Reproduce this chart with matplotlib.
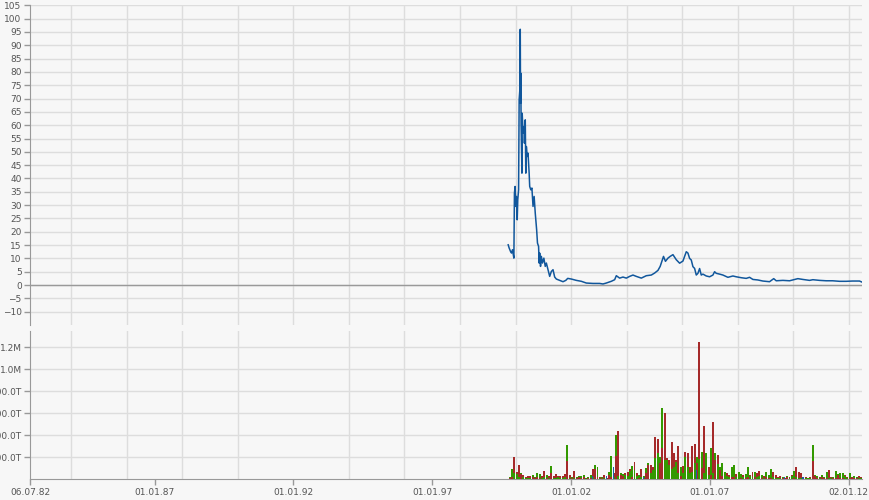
import numpy as np
import matplotlib
matplotlib.use("Agg")
import matplotlib.pyplot as plt

# price line (decimal years, value)
price_t = [1999.735, 1999.77, 1999.82, 1999.855, 1999.89, 1999.94, 1999.96, 1999.985, 2000.01, 2000.03,
           2000.06, 2000.08, 2000.11, 2000.13, 2000.155, 2000.17, 2000.18, 2000.19, 2000.20, 2000.23,
           2000.24, 2000.27, 2000.30, 2000.32, 2000.35, 2000.37, 2000.39, 2000.42, 2000.45, 2000.49,
           2000.51, 2000.55, 2000.59, 2000.63, 2000.67, 2000.71, 2000.76, 2000.79, 2000.83, 2000.85,
           2000.87, 2000.90, 2000.93, 2000.97, 2001.02, 2001.07, 2001.11, 2001.17, 2001.23, 2001.29,
           2001.35, 2001.41, 2001.47, 2001.59, 2001.71, 2001.81, 2001.88, 2002.01, 2002.19, 2002.37,
           2002.55, 2002.79, 2003.03, 2003.15, 2003.27, 2003.45, 2003.57, 2003.63, 2003.75, 2003.87,
           2003.99, 2004.11, 2004.23, 2004.35, 2004.53, 2004.71, 2004.89, 2005.01, 2005.13, 2005.21,
           2005.29, 2005.33, 2005.40, 2005.49, 2005.57, 2005.67, 2005.79, 2005.91, 2006.03, 2006.15,
           2006.21, 2006.27, 2006.33, 2006.39, 2006.45, 2006.51, 2006.57, 2006.63, 2006.69, 2006.75,
           2006.87, 2006.99, 2007.11, 2007.17, 2007.23, 2007.35, 2007.47, 2007.65, 2007.83, 2007.95,
           2008.13, 2008.31, 2008.43, 2008.55, 2008.73, 2008.91, 2009.15, 2009.30, 2009.39, 2009.63,
           2009.87, 2010.05, 2010.17, 2010.35, 2010.59, 2010.71, 2010.95, 2011.19, 2011.42, 2011.67,
           2011.91, 2012.14, 2012.39, 2012.48]
price_v = [15.1, 13.9, 12.6, 12.0, 13.25, 10.1, 34.5, 37.0, 29.5, 33.25,
           24.5, 32.0, 35.75, 69.5, 73.25, 96.0, 68.25, 79.5, 60.75, 42.0,
           64.5, 57.0, 59.5, 53.25, 62.0, 42.0, 52.0, 48.25, 49.5, 42.0,
           37.0, 35.75, 36.4, 29.5, 33.25, 27.0, 20.75, 15.75, 14.5, 8.25,
           12.0, 7.0, 10.75, 8.25, 10.1, 7.0, 8.25, 5.75, 3.25, 5.1,
           5.75, 3.0, 2.25, 1.75, 1.25, 1.75, 2.5, 2.25, 1.75, 1.4,
           0.75, 0.6, 0.6, 0.4, 0.75, 1.4, 2.0, 3.5, 2.6, 3.0,
           2.6, 3.25, 3.75, 3.25, 2.6, 3.5, 3.75, 4.5, 5.5, 7.0,
           9.5, 10.75, 8.9, 10.1, 10.75, 11.4, 9.5, 8.2, 9.0, 12.5,
           12.0, 10.0, 9.4, 6.9, 6.25, 3.75, 4.4, 6.2, 3.75, 4.1,
           3.4, 3.1, 3.75, 5.0, 4.4, 4.1, 3.75, 2.9, 3.4, 3.1,
           2.75, 2.5, 2.9, 2.1, 1.9, 1.5, 1.25, 2.4, 1.6, 1.75,
           1.6, 2.1, 2.4, 2.1, 1.75, 2.0, 1.75, 1.6, 1.6, 1.4,
           1.4, 1.5, 1.5, 1.1]

# monthly volume (thousands), first month starts Oct 1999
vol_start = 1999.75
vol_red = [15, 20, 203, 69, 130, 48, 39, 18, 30, 30, 18, 15, 20, 10, 30, 78, 15, 30, 54, 30,
           48, 30, 30, 30, 48, 166, 39, 12, 78, 12, 20, 10, 24, 15, 8, 12, 97, 97, 24, 24,
           12, 39, 10, 39, 20, 60, 212, 442, 39, 30, 60, 69, 90, 20, 160, 54, 15, 90, 10, 54,
           130, 130, 115, 381, 370, 145, 281, 600, 190, 175, 342, 236, 175, 303, 30, 121, 251, 236, 115, 303,
           321, 145, 1251, 100, 484, 242, 115, 40, 518, 175, 221, 84, 30, 69, 54, 39, 20, 20, 45, 69,
           15, 39, 15, 20, 39, 63, 20, 54, 75, 15, 33, 24, 15, 15, 69, 39, 24, 30, 10, 10,
           18, 24, 39, 15, 109, 63, 54, 10, 18, 15, 18, 169, 30, 10, 24, 24, 10, 15, 85, 18,
           10, 15, 39, 15, 15, 39, 18, 15, 18, 10, 10, 30, 24]
vol_green = [25, 94, 54, 48, 20, 60, 18, 15, 15, 12, 39, 24, 60, 48, 12, 20, 39, 15, 121, 12,
             15, 18, 12, 15, 18, 311, 15, 24, 15, 18, 30, 30, 36, 12, 18, 36, 20, 130, 109, 12,
             24, 15, 15, 69, 212, 24, 403, 30, 54, 48, 39, 30, 78, 121, 84, 30, 39, 20, 30, 100,
             151, 60, 84, 190, 236, 200, 645, 175, 175, 130, 90, 115, 160, 60, 109, 60, 200, 115, 60, 69,
             145, 206, 184, 245, 60, 236, 40, 281, 60, 236, 136, 115, 145, 69, 30, 24, 115, 130, 24, 63,
             45, 20, 45, 109, 33, 24, 69, 20, 30, 39, 15, 63, 39, 90, 20, 15, 15, 12, 24, 12,
             30, 12, 30, 75, 20, 15, 12, 24, 12, 10, 12, 312, 39, 30, 12, 39, 24, 70, 15, 12,
             24, 75, 48, 54, 60, 30, 12, 60, 24, 30, 24, 12, 15]
blue_month = [36, 42, 45, 58, 81, 119, 127]
blue_vol = [30, 30, 109, 24, 84, 18, 18]

x_ticks = [1982.51, 1987.0, 1992.0, 1997.0, 2002.0, 2007.0, 2012.003]
x_labels = ["06.07.82", "01.01.87", "01.01.92", "01.01.97", "01.01.02", "01.01.07", "02.01.12"]
vol_ticks = [200, 400, 600, 800, 1000, 1200]
vol_labels = ["200.0T", "400.0T", "600.0T", "800.0T", "1.0M", "1.2M"]

bg = "#f7f7f7"
grid_c = "#dddddd"
axis_c = "#999999"
txt_c = "#555555"
red_c = "#a52a2a"
green_c = "#339900"
xmin, xmax = 1982.51, 2012.48

fig = plt.figure(figsize=(8.7, 5.0), dpi=100, facecolor=bg)
ax = fig.add_axes([30 / 870, 0.35, 832 / 870, 0.6394])
ax2 = fig.add_axes([30 / 870, 0.0414, 832 / 870, 0.2966])

for a in (ax, ax2):
    a.set_facecolor(bg)
    a.set_xlim(xmin, xmax)
    for s in a.spines.values():
        s.set_visible(False)
    a.spines["left"].set_visible(True)
    a.spines["left"].set_color(axis_c)
    a.set_xticks(np.arange(1984, 2013, 2), minor=True)
    a.grid(True, which="minor", axis="x", color=grid_c, lw=1)
    a.grid(True, which="major", axis="y", color=grid_c, lw=1)
    a.set_axisbelow(True)
    a.tick_params(axis="y", length=4, width=1, color=axis_c, labelcolor=txt_c, labelsize=6.5, pad=2)
    a.tick_params(axis="x", which="minor", length=0)

# price panel
ax.plot(price_t, price_v, color="#11579c", lw=1.1, zorder=3)
ax.axhline(0, color=axis_c, lw=1, zorder=2)
ax.set_ylim(-15, 105)
ax.set_yticks(np.arange(-10, 106, 5))
ax.set_xticks([])

# volume panel: taller of red/green behind, shorter in front
red = np.array(vol_red)
green = np.array(vol_green)
months = vol_start + np.arange(len(red)) / 12.0
w = 1 / 12.0
red_back = red >= green
back_h = np.where(red_back, red, green)
front_h = np.where(red_back, green, red)
back_c = [red_c if r else green_c for r in red_back]
front_c = [green_c if r else red_c for r in red_back]
ax2.bar(months, back_h, width=w * 0.85, align="edge", color=back_c, lw=0, zorder=3)
ax2.bar(months, front_h, width=w * 0.85, align="edge", color=front_c, lw=0, zorder=4)
blue_x = vol_start + np.array(blue_month) / 12.0
ax2.bar(blue_x, blue_vol, width=w * 0.5, align="edge", color="#1a5fa8", lw=0, zorder=5)
ax2.set_ylim(0, 1350)
ax2.set_yticks(vol_ticks)
ax2.set_yticklabels(vol_labels)
ax2.spines["bottom"].set_visible(True)
ax2.spines["bottom"].set_color(axis_c)
ax2.set_xticks(x_ticks)
ax2.set_xticklabels(x_labels)
ax2.tick_params(axis="x", which="major", length=4, width=1, color=axis_c, labelcolor=txt_c,
                labelsize=6.5, pad=2)

fig.savefig("out.png", dpi=100, facecolor=bg)
